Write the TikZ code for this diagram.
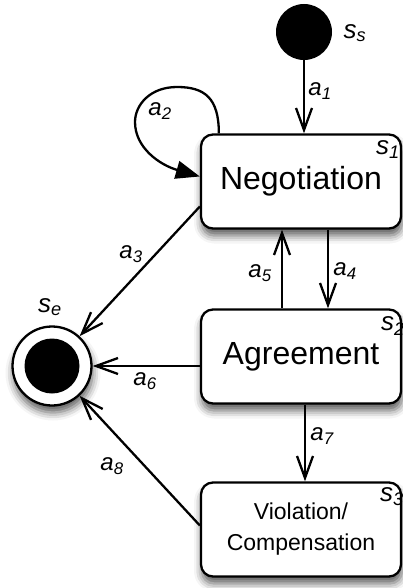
\documentclass[tikz,border=0pt]{standalone}
\usepackage{fontspec}
\setmainfont{Liberation Sans}
\usetikzlibrary{positioning, arrows.meta, shadows.blur}

\tikzset{
  state/.style={draw, line width=2.3pt, rounded corners=12pt, fill=white,
    minimum width=200pt, minimum height=94pt, align=center,
    blur shadow={shadow xshift=1pt, shadow yshift=-7pt, shadow blur radius=8pt, shadow opacity=65}},
  trans/.style={line width=2.3pt, -{Straight Barb[length=22pt, width=16pt]}},
  act/.style={font=\fontsize{24}{26}\selectfont\itshape, inner sep=0pt},
  sname/.style={font=\fontsize{26}{28}\selectfont\itshape, inner sep=0pt},
}

\begin{document}
\begin{tikzpicture}[x=1pt, y=-1pt]
	\useasboundingbox (0,0) rectangle (403,588);

	% states
	\node[circle, fill, minimum size=56pt, inner sep=0pt] (start) at (304,32) {};
	\node[state, font=\fontsize{32}{36}\selectfont] (neg) at (301,181.5) {Negotiation};
	\node[state, font=\fontsize{32}{36}\selectfont] (agr) at (301,356.5) {Agreement};
	\node[state, font=\fontsize{23}{31}\selectfont] (viol) at (301,529.5) {Violation/\\Compensation};
	\node[circle, draw, line width=2.3pt, fill=white, minimum size=79pt, inner sep=0pt,
		blur shadow={shadow xshift=1pt, shadow yshift=-7pt, shadow blur radius=8pt, shadow opacity=65}] (fin) at (52,366) {};
	\node[circle, fill, minimum size=55pt, inner sep=0pt] (fincore) at (fin) {};

	% state names
	\node[sname] (ss) at (355,33) {s\textsubscript{s}};
	\node[sname] (s1) at (388,150) {s\textsubscript{1}};
	\node[sname] (s2) at (393,326) {s\textsubscript{2}};
	\node[sname] (s3) at (392,497) {s\textsubscript{3}};
	\node[sname] (se) at (50,307) {s\textsubscript{e}};

	% transitions
	\draw[trans] (start) -- (start |- neg.north);
	\draw[line width=2.3pt, -{Triangle[length=24pt, width=18pt]}]
		([xshift=19pt]neg.north west) .. controls +(0,-35) and (205,87) .. (177,87)
		.. controls (150,87) and (135,105) .. (135,122)
		.. controls (135,148) and (160,165) .. ([yshift=5pt]neg.west);
	\draw[trans] ([yshift=-25pt]neg.west) -- (fin);
	\draw[trans] ([xshift=27pt]neg.south) -- ([xshift=27pt]agr.north);
	\draw[trans] ([xshift=-19pt]agr.north) -- ([xshift=-19pt]neg.south);
	\draw[trans] (agr.west |- fin) -- (fin);
	\draw[trans] ([xshift=4pt]agr.south) -- ([xshift=4pt]viol.north);
	\draw[trans] ([yshift=4pt]viol.west) -- (fin);

	% action labels
	\node[act] (a1) at (320,91) {a\textsubscript{1}};
	\node[act] (a2) at (160,111) {a\textsubscript{2}};
	\node[act] (a3) at (131,254) {a\textsubscript{3}};
	\node[act] (a4) at (345,271) {a\textsubscript{4}};
	\node[act] (a5) at (260,273) {a\textsubscript{5}};
	\node[act] (a6) at (145,381) {a\textsubscript{6}};
	\node[act] (a7) at (322,436) {a\textsubscript{7}};
	\node[act] (a8) at (112,466) {a\textsubscript{8}};
\end{tikzpicture}
\end{document}
